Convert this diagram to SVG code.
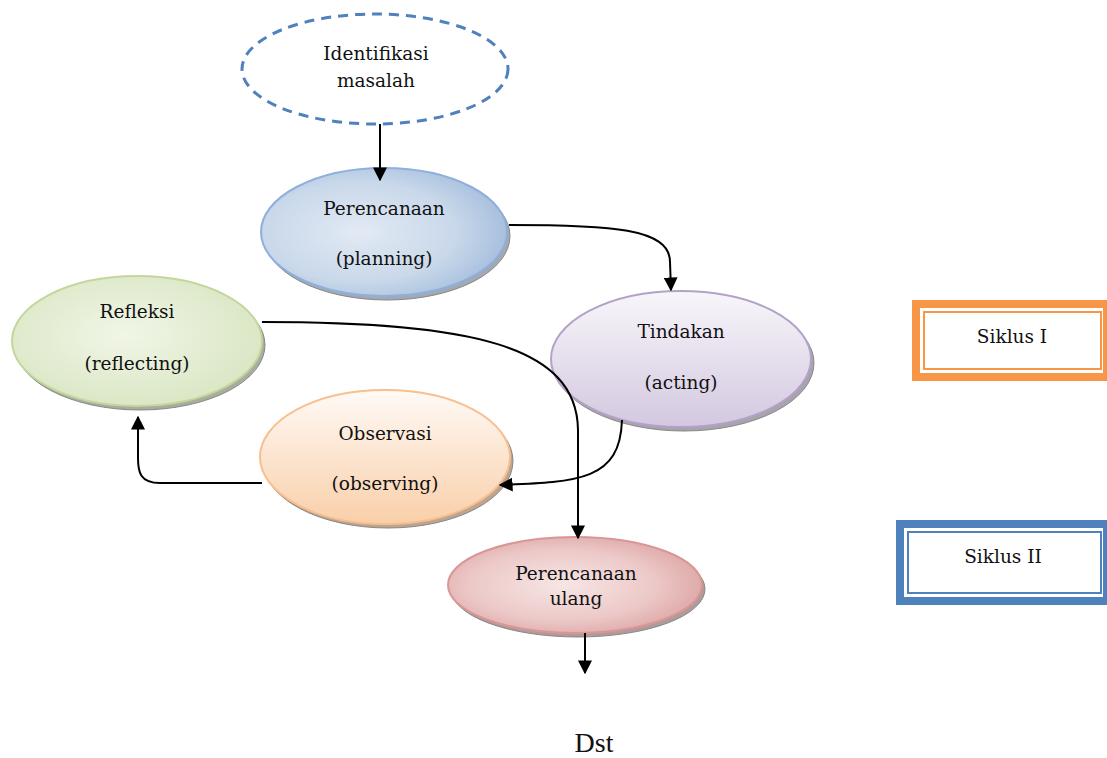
<svg xmlns="http://www.w3.org/2000/svg" width="1107" height="758" viewBox="0 0 1107 758">
<style>
.t{font-family:"DejaVu Serif","Liberation Serif",serif;font-size:18.5px;fill:#111;text-anchor:middle}
.c{fill:none;stroke:#000;stroke-width:2}
.sh{stroke:#888;stroke-width:1}
</style>
<defs>
<marker id="a" viewBox="0 0 10 10" refX="9" refY="5" markerWidth="14" markerHeight="14" markerUnits="userSpaceOnUse" orient="auto">
<path d="M0,0 L10,5 L0,10 z" fill="#000"/>
</marker>
<radialGradient id="gb" cx="0.4" cy="0.5" r="0.65"><stop offset="0" stop-color="#e2eaf4"/><stop offset="0.6" stop-color="#c9d8ea"/><stop offset="1" stop-color="#9fbadb"/></radialGradient>
<radialGradient id="gg" cx="0.45" cy="0.45" r="0.65"><stop offset="0" stop-color="#f1f6e7"/><stop offset="1" stop-color="#d7e4bf"/></radialGradient>
<linearGradient id="gp" x1="0" y1="0" x2="0" y2="1"><stop offset="0" stop-color="#f8f6fa"/><stop offset="1" stop-color="#d3c8e0"/></linearGradient>
<linearGradient id="go" x1="0" y1="0" x2="0" y2="1"><stop offset="0" stop-color="#fffaf6"/><stop offset="1" stop-color="#f9cfa9"/></linearGradient>
<radialGradient id="gr" cx="0.45" cy="0.5" r="0.6"><stop offset="0" stop-color="#f6e6e5"/><stop offset="0.6" stop-color="#ecc9c8"/><stop offset="1" stop-color="#dba3a2"/></radialGradient>
</defs>

<g id="identifikasi">
<ellipse cx="375" cy="69" rx="133" ry="55" fill="#fff" stroke="#4f81bd" stroke-width="3" stroke-dasharray="10,7"/>
<text class="t" x="376" y="60">Identifikasi</text>
<text class="t" x="376" y="87">masalah</text>
</g>

<g id="perencanaan">
<ellipse cx="387" cy="236" rx="123" ry="64" fill="#a3a9b4" class="sh"/>
<ellipse cx="384" cy="232" rx="123" ry="64" fill="url(#gb)" stroke="#8eb0da" stroke-width="2"/>
<text class="t" x="384" y="215">Perencanaan</text>
<text class="t" x="384" y="265">(planning)</text>
</g>

<g id="refleksi">
<ellipse cx="140" cy="345" rx="125" ry="65" fill="#a9ad9e" class="sh"/>
<ellipse cx="137" cy="341" rx="125" ry="65" fill="url(#gg)" stroke="#c3d69b" stroke-width="2"/>
<text class="t" x="137" y="318">Refleksi</text>
<text class="t" x="137" y="370">(reflecting)</text>
</g>

<g id="tindakan">
<ellipse cx="684" cy="363" rx="130" ry="68" fill="#a8a3ad" class="sh"/>
<ellipse cx="681" cy="359" rx="130" ry="68" fill="url(#gp)" stroke="#b3a2c7" stroke-width="2"/>
<text class="t" x="681" y="338">Tindakan</text>
<text class="t" x="681" y="389">(acting)</text>
</g>

<g id="observasi">
<ellipse cx="388" cy="461" rx="125" ry="67" fill="#bea58f" class="sh"/>
<ellipse cx="385" cy="457" rx="125" ry="67" fill="url(#go)" stroke="#f9bf8f" stroke-width="2"/>
<text class="t" x="385" y="440">Observasi</text>
<text class="t" x="385" y="490">(observing)</text>
</g>

<g id="perencanaan-ulang">
<ellipse cx="578" cy="589" rx="127" ry="48" fill="#b19a9a" class="sh"/>
<ellipse cx="575" cy="585" rx="127" ry="48" fill="url(#gr)" stroke="#d99694" stroke-width="2"/>
<text class="t" x="576" y="580">Perencanaan</text>
<text class="t" x="576" y="605">ulang</text>
</g>

<g id="siklus1">
<rect x="916" y="304" width="191" height="73" fill="#fff" stroke="#f79646" stroke-width="8"/>
<rect x="924" y="312" width="177" height="57" fill="#fff" stroke="#f79646" stroke-width="2"/>
<text class="t" x="1012" y="343">Siklus I</text>
</g>

<g id="siklus2">
<rect x="900" y="524" width="207" height="77" fill="#fff" stroke="#4f81bd" stroke-width="8"/>
<rect x="908" y="532" width="193" height="61" fill="#fff" stroke="#4f81bd" stroke-width="2"/>
<text class="t" x="1003" y="563">Siklus II</text>
</g>

<g id="connectors">
<path class="c" d="M380,124 L380,180" marker-end="url(#a)"/>
<path class="c" d="M509,225 C610,225 670,228 670,262 L671,290" marker-end="url(#a)"/>
<path class="c" d="M262,322 C470,322 577,345 578,430 L578,538" marker-end="url(#a)"/>
<path class="c" d="M622,420 C620,480 580,482 500,485" marker-end="url(#a)"/>
<path class="c" d="M262,483 L160,483 C140,483 138,472 138,458 L138,417" marker-end="url(#a)"/>
<path class="c" d="M585,633 L585,673" marker-end="url(#a)"/>
</g>

<text x="594" y="752" style="font-family:'Liberation Serif','DejaVu Serif',serif;font-size:28px;fill:#111;text-anchor:middle">Dst</text>
</svg>
